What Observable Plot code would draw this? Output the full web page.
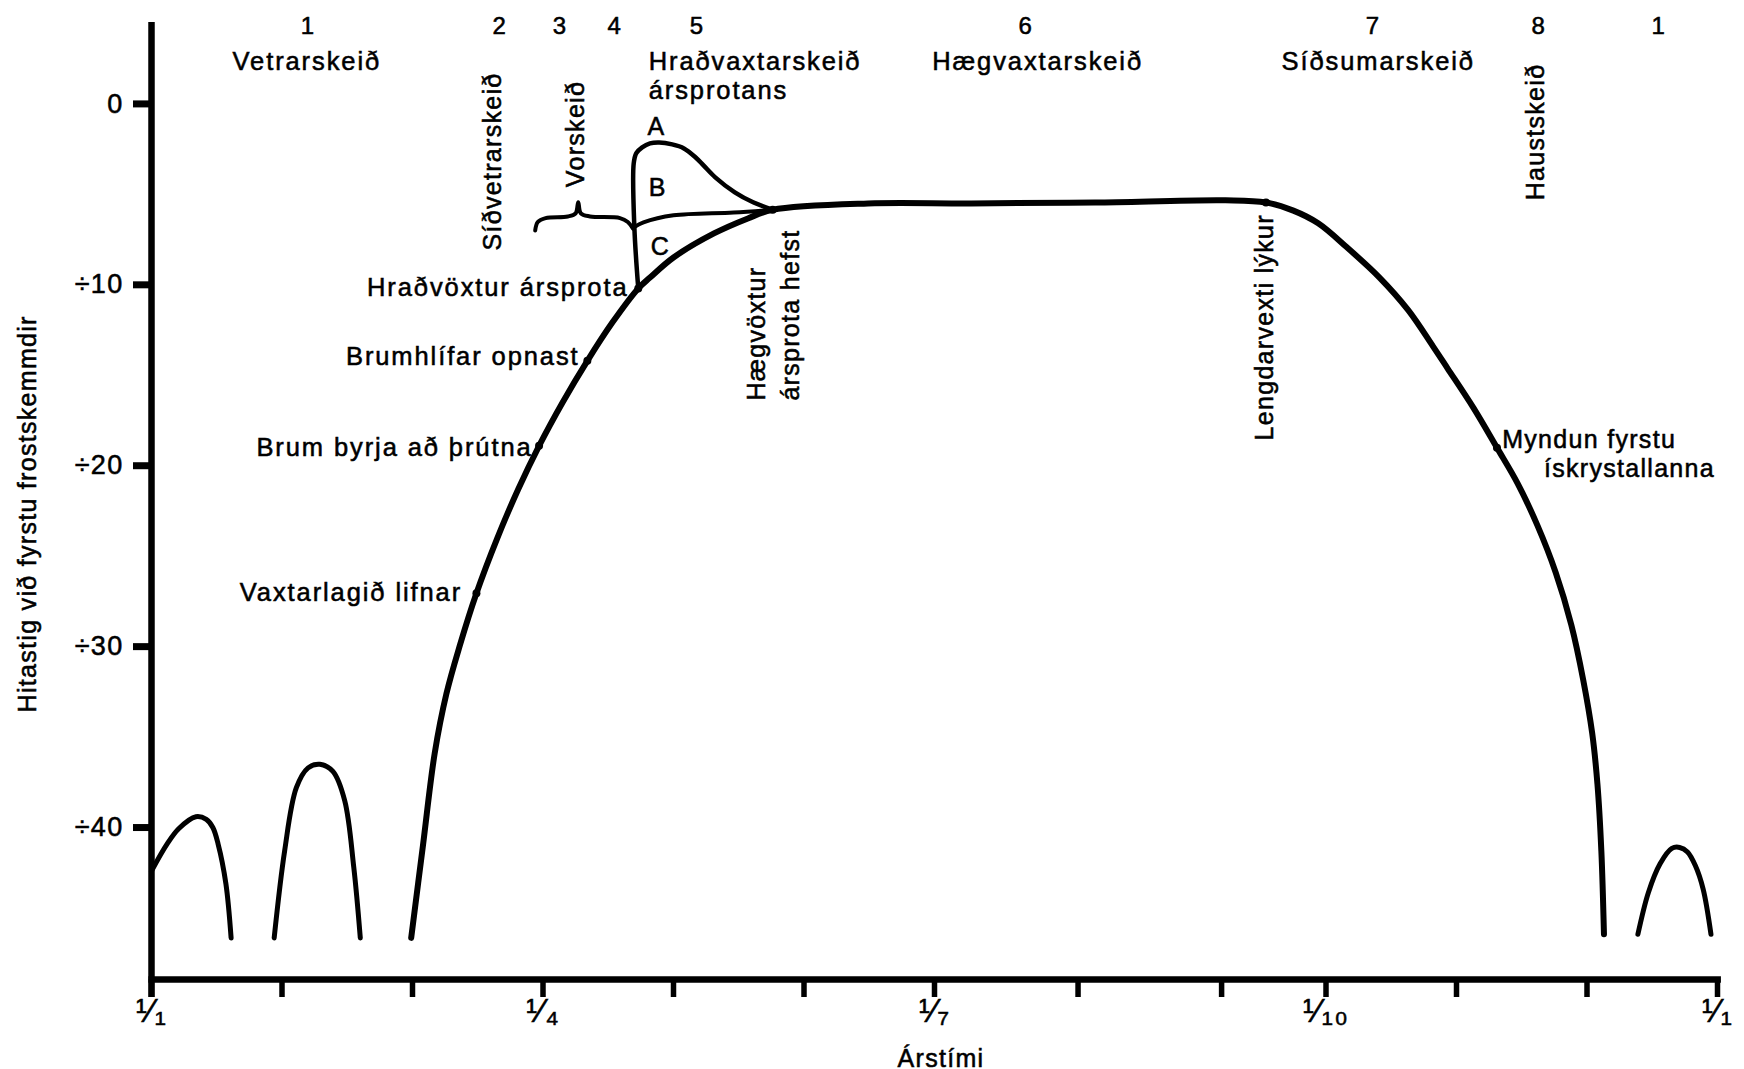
<!DOCTYPE html>
<html>
<head>
<meta charset="utf-8">
<script src="https://cdn.jsdelivr.net/npm/d3@7"></script>
<script src="https://cdn.jsdelivr.net/npm/@observablehq/plot@0.6"></script>
<style>
html, body { margin: 0; padding: 0; background: #fff; }
#chart svg text { letter-spacing: 1.3px; stroke: #000; stroke-width: 0.55px; paint-order: stroke; }
#chart svg g.wide text { letter-spacing: 1.9px; }
</style>
</head>
<body>
<div id="chart"></div>
<script>
// ---- axis ticks ----
const yTicks = [0, -10, -20, -30, -40];
const yTickLabels = ["0", "÷10", "÷20", "÷30", "÷40"];
const tickMonths = [0, 1, 2, 3, 4, 5, 6, 7.1, 8.2, 9, 10, 11, 12];
const xLabelMonths = [0, 3, 6, 9, 12];
const xLabels = ["¹⁄₁", "¹⁄₄", "¹⁄₇", "¹⁄₁₀", "¹⁄₁"];
const xTitle = "Árstími";
const yTitle = "Hitastig við fyrstu frostskemmdir";

// ---- curves (month since 1/1, temperature °C) ----
const bump1M = [0, 0.12, 0.21, 0.34, 0.42, 0.47, 0.51, 0.57, 0.61];
const bump1T = [-42.4, -40.9, -40.05, -39.4, -39.55, -40.0, -40.9, -43.1, -46.1];
const bump2M = [0.94, 1.02, 1.11, 1.20, 1.29, 1.39, 1.48, 1.55, 1.60];
const bump2T = [-46.1, -41.3, -37.8, -36.7, -36.5, -36.9, -38.5, -42.2, -46.1];
const bump3M = [11.39, 11.47, 11.56, 11.65, 11.71, 11.77, 11.83, 11.89, 11.95];
const bump3T = [-45.9, -43.6, -42.0, -41.15, -41.1, -41.35, -42.1, -43.4, -45.9];
const mainM = [1.99, 2.08, 2.17, 2.26, 2.36, 2.49, 2.65, 2.81, 2.97, 3.15, 3.34, 3.53, 3.73, 3.82, 4.0, 4.31, 4.57, 4.76,
  5.49, 6.28, 7.23, 8.23, 8.54, 8.75, 8.94, 9.16, 9.41, 9.63, 9.82, 9.93, 10.13, 10.31, 10.47, 10.62, 10.76,
  10.88, 10.97, 11.04, 11.08, 11.11, 11.13];
const mainT = [-46.1, -41.0, -35.9, -32.6, -30.0, -27.05, -24.0, -21.3, -18.9, -16.5, -14.2, -12.1, -10.2, -9.6, -8.49, -7.16, -6.33, -5.85,
  -5.5, -5.5, -5.45, -5.33, -5.45, -5.9, -6.6, -7.93, -9.6, -11.4, -13.4, -14.6, -16.8, -19.0, -21.0, -23.3, -25.9,
  -28.8, -31.8, -34.8, -37.6, -41.3, -45.9];
const aM = [3.73, 3.70, 3.695, 3.715, 3.76, 3.82, 3.89, 3.99, 4.08, 4.17, 4.23, 4.32, 4.47, 4.61, 4.76];
const aT = [-10.2, -6.8, -3.3, -2.72, -2.40, -2.18, -2.13, -2.24, -2.46, -2.96, -3.40, -4.06, -4.89, -5.44, -5.85];
const bM = [3.70, 3.77, 4.0, 4.46, 4.76];
const bT = [-6.8, -6.55, -6.16, -6.0, -5.85];
const braceM = [2.94, 2.96, 3.02, 3.19, 3.25, 3.27, 3.29, 3.36, 3.59, 3.65, 3.69];
const braceT = [-7.0, -6.53, -6.31, -6.22, -6.05, -5.43, -6.05, -6.22, -6.31, -6.53, -6.9];

// ---- events on the curve ----
const eventM = [2.49, 2.97, 3.34, 3.73, 4.76, 8.54, 10.31];
const eventT = [-27.05, -18.9, -14.2, -10.2, -5.85, -5.45, -19.0];
const leftLabels = ["Vaxtarlagið lifnar", "Brum byrja að þrútna", "Brumhlífar opnast", "Hraðvöxtur ársprota"];
const leftLabelM = [2.38, 2.92, 3.28, 3.655];
const leftLabelT = [-27.0, -19.0, -14.0, -10.15];
const rightLabels = ["Myndun fyrstu", "ískrystallanna"];
const rightLabelM = [10.35, 10.67];
const rightLabelT = [-18.6, -20.2];
const vertLabels = ["Hægvöxtur", "ársprota hefst", "Lengdarvexti lýkur"];
const vertLabelM = [4.64, 4.90, 8.53];
const vertLabelT = [-16.4, -16.4, -18.6];
const branchLetters = ["A", "B", "C"];
const branchM = [3.87, 3.88, 3.90];
const branchT = [-1.3, -4.67, -7.93];

// ---- phases ----
const phaseNumbers = ["1", "2", "3", "4", "5", "6", "7", "8", "1"];
const phaseNumberM = [1.20, 2.67, 3.13, 3.55, 4.18, 6.70, 9.36, 10.63, 11.55];
const phaseNumberT = 4.3;
const phaseNames = ["Vetrarskeið", "Hægvaxtarskeið", "Síðsumarskeið"];
const phaseNameM = [1.19, 6.79, 9.40];
const phaseNameT = 2.35;
const phase5Lines = ["Hraðvaxtarskeið", "ársprotans"];
const phase5M = 3.81;
const phase5T = [2.35, 0.75];
const phaseVert = ["Síðvetrarskeið", "Vorskeið", "Haustskeið"];
const phaseVertM = [2.62, 3.25, 10.61];
const phaseVertT = [-8.1, -4.6, -5.33];

// ---- build tables ----
const pts = (M, T) => M.map((m, i) => ({m, t: T[i]}));
const lab = (L, M, T) => L.map((s, i) => ({s, m: Array.isArray(M) ? M[i] : M, t: Array.isArray(T) ? T[i] : T}));

const F = 25;
const lineOpts = {x: "m", y: "t", curve: "catmull-rom", stroke: "black", strokeLinecap: "round", strokeLinejoin: "round"};
const textOpts = {x: "m", y: "t", text: "s", fontSize: F, fill: "black"};
const wideOpts = {...textOpts, fontSize: 25.5, className: "wide"};

const chart = Plot.plot({
  width: 1744,
  height: 1069,
  marginLeft: 151,
  marginRight: 27,
  marginTop: 22,
  marginBottom: 90,
  style: {fontFamily: "'Liberation Sans', Arial, sans-serif", background: "white", color: "black", overflow: "visible"},
  x: {domain: [0, 12], axis: null, label: null},
  y: {domain: [-48.4, 4.5], axis: null, label: null},
  marks: [
    // axes
    Plot.axisY({ticks: yTicks, tickFormat: d => yTickLabels[yTicks.indexOf(d)], tickSize: 18, tickPadding: 10,
      strokeWidth: 7, fontSize: 27, label: null, anchor: "left"}),
    Plot.axisX({ticks: tickMonths, tickFormat: () => "", tickSize: 18, strokeWidth: 5.5, label: null, anchor: "bottom"}),
    Plot.axisX({ticks: xLabelMonths, tickFormat: d => xLabels[xLabelMonths.indexOf(d)], tickSize: 0, tickPadding: 19,
      fontSize: 33, label: null, anchor: "bottom"}),
    Plot.ruleX([0], {y1: -49.4, y2: 4.5, strokeWidth: 6.5}),
    Plot.ruleY([-48.4], {x1: -0.02, x2: 12.03, strokeWidth: 6.5}),
    Plot.text([xTitle], {x: [6.05], y: [-52.8], text: d => d, fontSize: F, lineAnchor: "middle"}),
    Plot.text([yTitle], {x: [-0.95], y: [-22.66], text: d => d, fontSize: F, rotate: -90, lineAnchor: "middle"}),

    // curves
    Plot.line(pts(bump1M, bump1T), {...lineOpts, strokeWidth: 5}),
    Plot.line(pts(bump2M, bump2T), {...lineOpts, strokeWidth: 5}),
    Plot.line(pts(bump3M, bump3T), {...lineOpts, strokeWidth: 5}),
    Plot.line(pts(mainM, mainT), {...lineOpts, strokeWidth: 6}),
    Plot.line(pts(aM, aT), {...lineOpts, strokeWidth: 4.5}),
    Plot.line(pts(bM, bT), {...lineOpts, strokeWidth: 4}),
    Plot.line(pts(braceM, braceT), {...lineOpts, strokeWidth: 4}),
    Plot.dot(pts(eventM, eventT), {x: "m", y: "t", r: 4, fill: "black"}),

    // annotations
    Plot.text(lab(leftLabels, leftLabelM, leftLabelT), {...wideOpts, textAnchor: "end", lineAnchor: "middle"}),
    Plot.text(lab(rightLabels, rightLabelM, rightLabelT), {...textOpts, textAnchor: "start", lineAnchor: "middle"}),
    Plot.text(lab(vertLabels, vertLabelM, vertLabelT), {...textOpts, rotate: -90, textAnchor: "start", lineAnchor: "middle"}),
    Plot.text(lab(branchLetters, branchM, branchT), {...textOpts, textAnchor: "middle", lineAnchor: "middle"}),
    Plot.text(lab(phaseNumbers, phaseNumberM, phaseNumberT), {...textOpts, fontSize: 24, textAnchor: "middle", lineAnchor: "middle"}),
    Plot.text(lab(phaseNames, phaseNameM, phaseNameT), {...wideOpts, textAnchor: "middle", lineAnchor: "middle"}),
    Plot.text(lab(phase5Lines, phase5M, phase5T), {...wideOpts, textAnchor: "start", lineAnchor: "middle"}),
    Plot.text(lab(phaseVert, phaseVertM, phaseVertT), {...textOpts, rotate: -90, textAnchor: "start", lineAnchor: "middle"})
  ]
});
document.getElementById("chart").appendChild(chart);
</script>
</body>
</html>
